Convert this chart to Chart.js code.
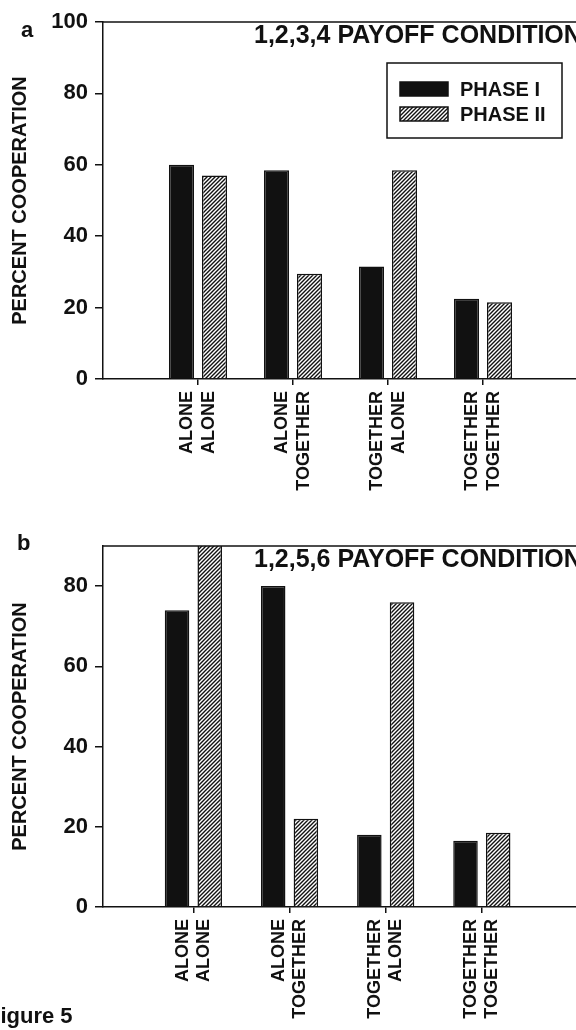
<!DOCTYPE html>
<html>
<head>
<meta charset="utf-8">
<script src="https://cdn.jsdelivr.net/npm/chart.js@4.4.0/dist/chart.umd.min.js"></script>
<style>
  body { margin: 0; background: #fff; width: 576px; height: 1030px; overflow: hidden; position: relative; }
  #wrapA { position: absolute; left: 0; top: 0; }
  #wrapB { position: absolute; left: 0; top: 500px; }
</style>
</head>
<body>
<div id="wrapA"><canvas id="chartA" width="600" height="500"></canvas></div>
<div id="wrapB"><canvas id="chartB" width="600" height="530"></canvas></div>
<script>
// data
const conditions = [['ALONE', 'ALONE'], ['ALONE', 'TOGETHER'], ['TOGETHER', 'ALONE'], ['TOGETHER', 'TOGETHER']];
const seriesNames = ['PHASE I', 'PHASE II'];
const phase1A = [60, 58.5, 31.5, 22.5];
const phase2A = [57, 29.5, 58.5, 21.5];
const phase1B = [74, 80, 18, 16.5];
const phase2B = [92, 22, 76, 18.5];
const yTicksA = [0, 20, 40, 60, 80, 100];
const yTicksB = [0, 20, 40, 60, 80];
const xTicks = [1, 2, 3, 4, 5];

const INK = '#111';
const FONT = "'Liberation Sans', Arial, sans-serif";
Chart.defaults.font.family = FONT;
Chart.defaults.color = INK;

function hatch() {
  const c = document.createElement('canvas');
  c.width = 4; c.height = 4;
  const g = c.getContext('2d');
  g.fillStyle = '#fff';
  g.fillRect(0, 0, 4, 4);
  g.strokeStyle = INK;
  g.lineWidth = 1.4;
  g.beginPath();
  g.moveTo(-1, 5); g.lineTo(5, -1);
  g.moveTo(-1, 1); g.lineTo(1, -1);
  g.moveTo(3, 5); g.lineTo(5, 3);
  g.stroke();
  return g.createPattern(c, 'repeat');
}
const stripes = hatch();

// frame line on top, panel letter, title, legend, caption
const panelDeco = {
  id: 'panelDeco',
  afterDatasetsDraw(chart, args, opts) {
    const ctx = chart.ctx;
    const a = chart.chartArea;
    ctx.save();
    ctx.strokeStyle = INK;
    ctx.lineWidth = 1.5;
    ctx.beginPath();
    ctx.moveTo(a.left, a.top);
    ctx.lineTo(chart.width, a.top);
    ctx.stroke();

    ctx.fillStyle = INK;
    ctx.textAlign = 'left';
    ctx.textBaseline = 'middle';
    ctx.font = 'bold 25px ' + FONT;
    ctx.fillText(opts.title, a.left + 151, a.top + 14);

    ctx.textBaseline = 'alphabetic';
    ctx.font = 'bold 22px ' + FONT;
    ctx.fillText(opts.letter, opts.letterX, opts.letterY);

    if (opts.caption) {
      ctx.fillText(opts.caption, -13, chart.height - 7);
    }

    if (opts.legend) {
      const bx = a.right - 191, by = a.top + 41;
      ctx.lineWidth = 1.5;
      ctx.strokeRect(bx, by, 175, 75);
      ctx.font = 'bold 20px ' + FONT;
      ctx.textBaseline = 'middle';
      chart.data.datasets.forEach((ds, i) => {
        const y = by + 26 + i * 25;
        ctx.fillStyle = ds.backgroundColor;
        ctx.fillRect(bx + 13, y - 7, 48, 14);
        ctx.strokeRect(bx + 13, y - 7, 48, 14);
        ctx.fillStyle = INK;
        ctx.fillText(ds.label, bx + 73, y + 1);
      });
    }
    ctx.restore();
  }
};

function makeChart(id, p1, p2, yMax, yTicks, deco, padTop, xMin, xHeight, catPct, barPct) {
  return new Chart(document.getElementById(id), {
    type: 'bar',
    data: {
      labels: conditions.map((c, i) => i + 1),
      datasets: [
        { label: seriesNames[0], data: p1, backgroundColor: INK },
        { label: seriesNames[1], data: p2, backgroundColor: stripes }
      ]
    },
    options: {
      responsive: false,
      animation: false,
      events: [],
      layout: { padding: { top: padTop, right: 22, left: 0, bottom: 0 } },
      datasets: {
        bar: {
          borderColor: INK,
          borderWidth: 1.5,
          categoryPercentage: catPct,
          barPercentage: barPct,
          clip: 0
        }
      },
      plugins: {
        legend: { display: false },
        tooltip: { enabled: false },
        panelDeco: deco
      },
      scales: {
        x: {
          type: 'linear',
          min: xMin,
          max: 5,
          offset: false,
          grid: { drawOnChartArea: false, offset: false, tickLength: 6, color: INK, lineWidth: 1.5 },
          border: { color: INK, width: 1.5 },
          afterBuildTicks: s => { s.ticks = xTicks.map(v => ({ value: v })); },
          afterFit: s => {
            s.height = xHeight;
            s.paddingLeft = 0;
            s.paddingRight = 0;
          },
          ticks: {
            autoSkip: false,
            minRotation: 90,
            maxRotation: 90,
            padding: 6,
            labelOffset: -10.5,
            font: { size: 18, weight: 'bold', lineHeight: 1.17 },
            color: INK,
            callback: v => conditions[v - 1] || ''
          }
        },
        y: {
          min: 0,
          max: yMax,
          grid: { drawOnChartArea: false, tickLength: 8, color: INK, lineWidth: 1.5 },
          border: { color: INK, width: 1.5 },
          afterBuildTicks: s => { s.ticks = yTicks.map(v => ({ value: v })); },
          afterFit: s => { s.width = 103; },
          ticks: { padding: 7, font: { size: 22, weight: 'bold' }, color: INK },
          title: {
            display: true,
            text: 'PERCENT COOPERATION',
            font: { size: 20, weight: 'bold' },
            color: INK,
            padding: { top: 8, bottom: 0 }
          }
        }
      }
    },
    plugins: [panelDeco]
  });
}

makeChart('chartA', phase1A, phase2A, 100, yTicksA,
  { title: '1,2,3,4 PAYOFF CONDITION', letter: 'a', letterX: 21, letterY: 37, legend: true },
  22, 0, 121, 0.695, 0.76);

makeChart('chartB', phase1B, phase2B, 90, yTicksB,
  { title: '1,2,5,6 PAYOFF CONDITION', letter: 'b', letterX: 17, letterY: 50, caption: 'Figure 5' },
  46, 0.06, 123, 0.68, 0.75);
</script>
</body>
</html>
